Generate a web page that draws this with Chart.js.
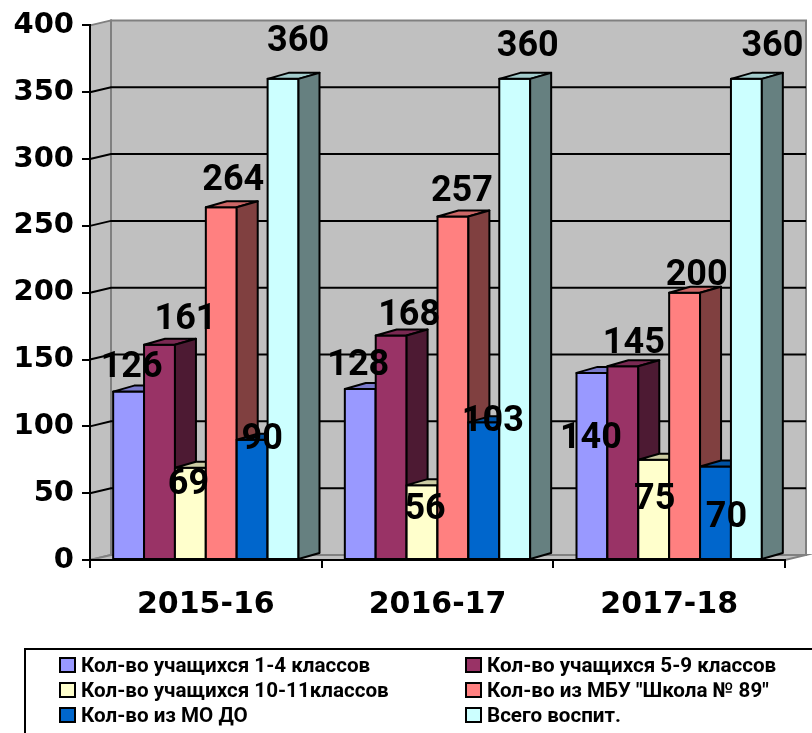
<!DOCTYPE html>
<html><head><meta charset="utf-8">
<script src="https://cdn.jsdelivr.net/npm/chart.js@4.4.1/dist/chart.umd.min.js"></script>
<style>
html,body{margin:0;padding:0;background:#fff;}
#wrap{position:relative;width:812px;height:733px;overflow:hidden;}
#c{position:absolute;left:0;top:0;}
#legend{position:absolute;left:24px;top:648px;width:820px;height:120px;border:2px solid #000;box-sizing:border-box;font-family:Roboto,sans-serif;font-weight:bold;font-size:20.6px;color:#000;}
.item{position:absolute;display:flex;align-items:center;white-space:nowrap;height:25px;}
.sw{width:17px;height:16px;border:2px solid #000;box-sizing:border-box;margin-right:5px;}
</style></head><body>
<div id="wrap"><canvas id="c" width="812" height="733"></canvas><div id="legend"></div></div>
<script>
// ---- data ----
const categories = ['2015-16', '2016-17', '2017-18'];
const seriesNames = [
  'Кол-во учащихся 1-4 классов',
  'Кол-во учащихся 5-9 классов',
  'Кол-во учащихся 10-11классов',
  'Кол-во из МБУ "Школа № 89"',
  'Кол-во из МО ДО',
  'Всего воспит.'
];
const grades1to4   = [126, 128, 140];
const grades5to9   = [161, 168, 145];
const grades10to11 = [69, 56, 75];
const fromSchool89 = [264, 257, 200];
const fromMODO     = [90, 103, 70];
const totalPupils  = [360, 360, 360];
const yTicks = [0, 50, 100, 150, 200, 250, 300, 350, 400];

// ---- styles ----
const colors = ['#9999FF', '#993366', '#FFFFCC', '#FF8080', '#0066CC', '#CCFFFF'];
const seriesValues = [grades1to4, grades5to9, grades10to11, fromSchool89, fromMODO, totalPupils];
// label placement (offset of label centre from bar front top-centre), per series / category
const labelOffsets = [
  [[3,-28], [-2,-27], [-1,62]],
  [[26,-29], [18,-23], [11,-26]],
  [[-2,13], [3,21], [1,36]],
  [[12,-30], [9,-29], [12,-21]],
  [[10,-4], [9,-4], [11,48]],
  [[15,-41], [13,-36], [26,-36]]
];
const DEPTH = {bx: 21, by: -6, wx: 21, wy: -5};

function shade(hex, f) {
  const n = parseInt(hex.slice(1), 16);
  const r = Math.round(((n >> 16) & 255) * f), g = Math.round(((n >> 8) & 255) * f), b = Math.round((n & 255) * f);
  return 'rgb(' + r + ',' + g + ',' + b + ')';
}

const threeD = {
  id: 'threeD',
  beforeDraw(chart) {
    const ctx = chart.ctx, a = chart.chartArea, y = chart.scales.y;
    const wx = DEPTH.wx, wy = DEPTH.wy;
    ctx.save();
    ctx.fillStyle = '#C0C0C0';
    ctx.strokeStyle = '#808080';
    ctx.lineWidth = 2;
    // back wall
    ctx.beginPath();
    ctx.rect(a.left + wx, a.top + wy, a.right - a.left, a.bottom - a.top);
    ctx.fill(); ctx.stroke();
    // side wall
    ctx.beginPath();
    ctx.moveTo(a.left, a.top); ctx.lineTo(a.left + wx, a.top + wy);
    ctx.lineTo(a.left + wx, a.bottom + wy); ctx.lineTo(a.left, a.bottom); ctx.closePath();
    ctx.fill(); ctx.stroke();
    // floor
    ctx.beginPath();
    ctx.moveTo(a.left, a.bottom); ctx.lineTo(a.left + wx, a.bottom + wy);
    ctx.lineTo(a.right + wx, a.bottom + wy); ctx.lineTo(a.right, a.bottom); ctx.closePath();
    ctx.fill(); ctx.stroke();
    // grid lines
    ctx.strokeStyle = '#000';
    ctx.lineWidth = 2;
    y.ticks.forEach(t => {
      if (t.value <= y.min || t.value >= y.max) return;
      const py = y.getPixelForValue(t.value);
      ctx.beginPath();
      ctx.moveTo(a.left, py); ctx.lineTo(a.left + wx, py + wy);
      ctx.lineTo(a.right + wx, py + wy);
      ctx.stroke();
    });
    ctx.restore();
  },
  beforeDatasetsDraw(chart) {
    const ctx = chart.ctx;
    const bx = DEPTH.bx, by = DEPTH.by;
    const nCat = chart.data.labels.length;
    ctx.save();
    ctx.lineWidth = 2;
    ctx.lineJoin = 'round';
    ctx.strokeStyle = '#000';
    for (let j = 0; j < nCat; j++) {
      chart.data.datasets.forEach((ds, i) => {
        const el = chart.getDatasetMeta(i).data[j];
        const l = el.x - el.width / 2, r = el.x + el.width / 2, t = el.y, b = el.base;
        const c = ds.backgroundColor;
        // front
        ctx.fillStyle = c;
        ctx.beginPath(); ctx.rect(l, t, r - l, b - t); ctx.fill(); ctx.stroke();
        // top
        ctx.fillStyle = shade(c, 0.8);
        ctx.beginPath();
        ctx.moveTo(l, t); ctx.lineTo(l + bx, t + by); ctx.lineTo(r + bx, t + by); ctx.lineTo(r, t); ctx.closePath();
        ctx.fill(); ctx.stroke();
        // side
        ctx.fillStyle = shade(c, 0.5);
        ctx.beginPath();
        ctx.moveTo(r, t); ctx.lineTo(r + bx, t + by); ctx.lineTo(r + bx, b + by); ctx.lineTo(r, b); ctx.closePath();
        ctx.fill(); ctx.stroke();
      });
    }
    // value labels
    ctx.fillStyle = '#000';
    ctx.font = 'bold 36px Roboto';
    ctx.textAlign = 'center';
    ctx.textBaseline = 'alphabetic';
    chart.data.datasets.forEach((ds, i) => {
      chart.getDatasetMeta(i).data.forEach((el, j) => {
        const o = labelOffsets[i][j];
        ctx.fillText(String(ds.data[j]), el.x + o[0], el.y + o[1] + 13);
      });
    });
    ctx.restore();
    return false;
  }
};

const datasets = seriesNames.map((name, i) => ({
  label: name,
  data: seriesValues[i],
  backgroundColor: colors[i],
  borderColor: '#000',
  borderWidth: 2,
  categoryPercentage: 0.8,
  barPercentage: 1.0
}));

const chart = new Chart(document.getElementById('c'), {
  type: 'bar',
  data: { labels: categories, datasets: datasets },
  plugins: [threeD],
  options: {
    responsive: false,
    animation: false,
    layout: { padding: { left: 0, right: 27, top: 25, bottom: 88 } },
    plugins: { legend: { display: false }, tooltip: { enabled: false } },
    scales: {
      x: {
        z: 1,
        grid: { offset: true, drawOnChartArea: false, drawTicks: true, tickLength: 8, color: '#000', lineWidth: 2 },
        border: { display: true, color: '#000', width: 2 },
        ticks: { color: '#000', font: { family: 'DejaVu Sans', weight: 'bold', size: 30 }, padding: 19 },
        afterFit(scale) { scale.height = 85; }
      },
      y: {
        min: 0, max: 400,
        afterBuildTicks(scale) { scale.ticks = yTicks.map(v => ({ value: v })); },
        grid: { drawOnChartArea: false, drawTicks: true, tickLength: 8, color: '#000', lineWidth: 2 },
        border: { display: true, color: '#000', width: 2 },
        ticks: { color: '#000', font: { family: 'DejaVu Sans', weight: 'bold', size: 29 }, padding: 8 },
        afterFit(scale) { scale.width = 90; }
      }
    }
  }
});

// ---- legend (HTML, generated from datasets) ----
const legend = document.getElementById('legend');
chart.data.datasets.forEach((ds, i) => {
  const col = i % 2, row = Math.floor(i / 2);
  const it = document.createElement('div');
  it.className = 'item';
  it.style.left = (col === 0 ? 33 : 439) + 'px';
  it.style.top = (2.5 + row * 25) + 'px';
  const sw = document.createElement('span');
  sw.className = 'sw';
  sw.style.background = ds.backgroundColor;
  const tx = document.createElement('span');
  tx.textContent = ds.label;
  it.appendChild(sw); it.appendChild(tx);
  legend.appendChild(it);
});
</script>
</body></html>
